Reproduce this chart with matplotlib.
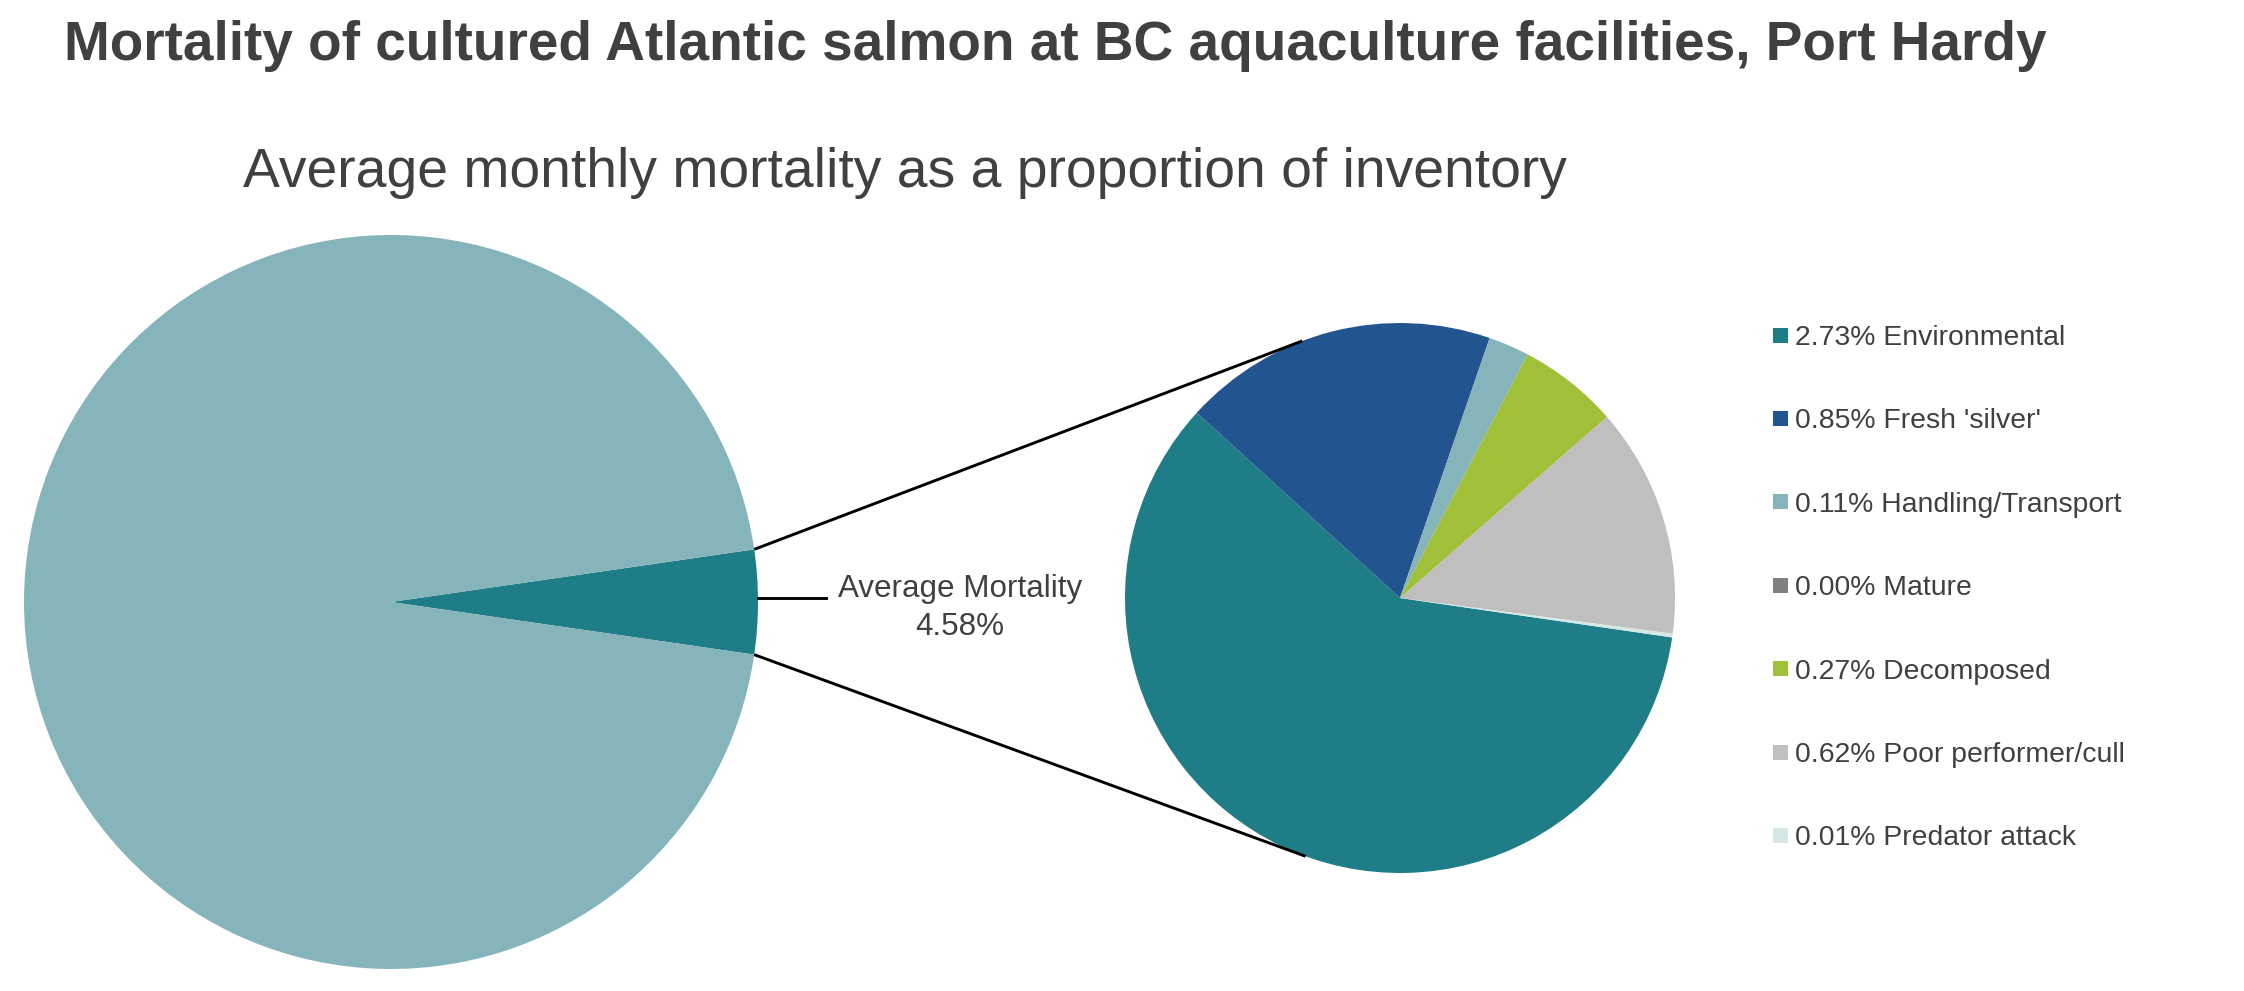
import numpy as np
import matplotlib.pyplot as plt
from matplotlib.patches import Rectangle

plt.rcParams['font.family'] = ['Liberation Sans', 'DejaVu Sans']

W, H = 2244, 991

# data
avg_mortality = 4.58
cause_names = ['Environmental', "Fresh 'silver'", 'Handling/Transport', 'Mature',
               'Decomposed', 'Poor performer/cull', 'Predator attack']
cause_values = [2.73, 0.85, 0.11, 0.00, 0.27, 0.62, 0.01]
cause_colors = ['#1F7D87', '#22548F', '#86B4BB', '#808080',
                '#A0C03A', '#BFBFBF', '#D6E8E5']
rest_color = '#86B4BB'
text_color = '#404040'

title = 'Mortality of cultured Atlantic salmon at BC aquaculture facilities, Port Hardy'
subtitle = 'Average monthly mortality as a proportion of inventory'


def ytop(y):
  # convert a "from the top" pixel row into axes data coords
  return H - y


def tangentPoint(p, c, r, upper):
  v = np.array(p) - np.array(c)
  d = np.hypot(v[0], v[1])
  phi = np.arctan2(v[1], v[0])
  alpha = np.arccos(r / d)
  cands = [np.array(c) + r*np.array([np.cos(phi + s*alpha), np.sin(phi + s*alpha)]) for s in (1, -1)]
  cands.sort(key=lambda q: q[1])
  return cands[1] if upper else cands[0]


fig = plt.figure(figsize=(W/100, H/100), dpi=100)
ax = fig.add_axes([0, 0, 1, 1])

# left pie: overall mortality vs rest of inventory
lc = (391, ytop(602))
lr = 367
half = avg_mortality/100*360/2
ax.pie([avg_mortality, 100 - avg_mortality], colors=[cause_colors[0], rest_color],
       startangle=half, counterclock=False, radius=lr, center=lc,
       wedgeprops=dict(linewidth=0))

# right pie: breakdown by cause
rc = (1400, ytop(598))
rr = 275
ax.pie(cause_values, colors=cause_colors, startangle=-half, counterclock=False,
       radius=rr, center=rc, wedgeprops=dict(linewidth=0))

# connector lines, tangent to the breakdown pie
for sgn, upper in ((1, True), (-1, False)):
  a = np.radians(sgn*half)
  p = (lc[0] + lr*np.cos(a), lc[1] + lr*np.sin(a))
  q = tangentPoint(p, rc, rr, upper)
  ax.plot([p[0], q[0]], [p[1], q[1]], color='black', lw=2.1, solid_capstyle='butt')

# leader line and label
ax.plot([lc[0] + lr, lc[0] + lr + 68], [ytop(598), ytop(598)], color='black', lw=2.1)
ax.text(960, ytop(597), 'Average Mortality', fontsize=22.6, color=text_color,
        ha='center', va='baseline')
ax.text(960, ytop(635), '%.2f%%' % avg_mortality, fontsize=22.6, color=text_color,
        ha='center', va='baseline')

# legend
for i, (name, val, col) in enumerate(zip(cause_names, cause_values, cause_colors)):
  yc = ytop(335 + i*83.4)
  ax.add_patch(Rectangle((1773, yc - 7.5), 15, 15, facecolor=col, edgecolor='none'))
  ax.text(1795, yc - 10, '%.2f%% %s' % (val, name), fontsize=20.4, color=text_color,
          ha='left', va='baseline')

# titles
ax.text(64, ytop(59.5), title, fontsize=39.6, fontweight='bold', color=text_color,
        ha='left', va='baseline')
ax.text(243, ytop(187), subtitle, fontsize=39.8, color=text_color,
        ha='left', va='baseline')

ax.set_xlim(0, W)
ax.set_ylim(0, H)
ax.set_aspect('equal')
ax.axis('off')

fig.savefig('out.png', dpi=100)
